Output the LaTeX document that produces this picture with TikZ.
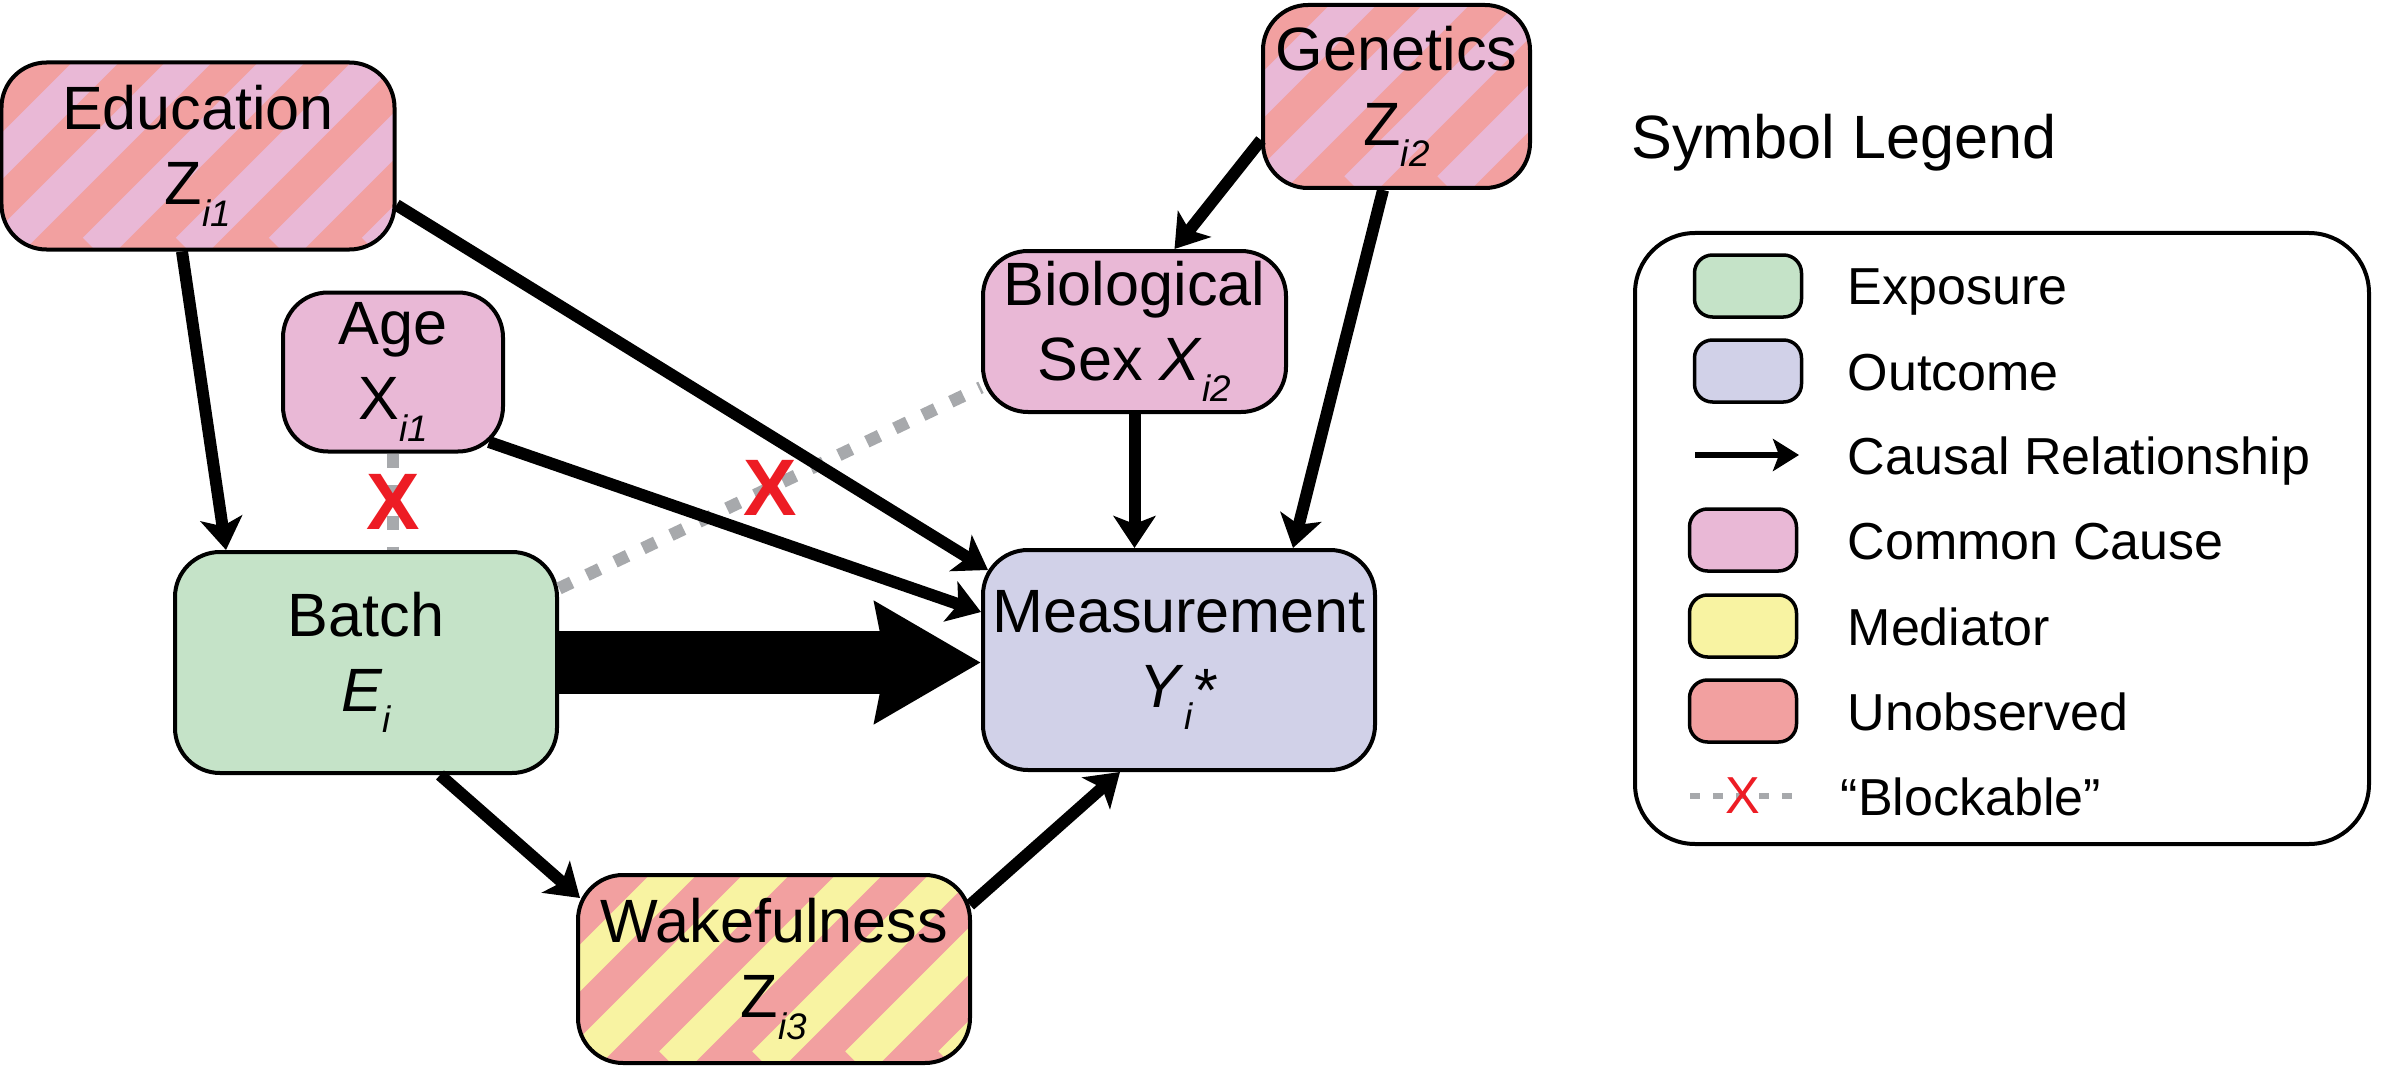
\documentclass[tikz,border=0pt]{standalone}
\usepackage{fontspec}
\setmainfont{Liberation Sans}
\usepackage{tikz}
\usetikzlibrary{arrows.meta}

\definecolor{exposure}{HTML}{C5E3C8}
\definecolor{outcome}{HTML}{D1D1E8}
\definecolor{common}{HTML}{E9B8D6}
\definecolor{mediator}{HTML}{F8F3A2}
\definecolor{unobs}{HTML}{F2A0A0}
\definecolor{blockgray}{HTML}{A7A9AC}
\definecolor{blockred}{HTML}{ED1C24}

\newcommand{\nodefont}{\fontsize{17.4pt}{21.3pt}\selectfont}
\newcommand{\legfont}{\fontsize{14.8pt}{17pt}\selectfont}
\newcommand{\xfont}{\fontsize{22.8pt}{24pt}\selectfont\bfseries}
\newcommand{\idx}[1]{\raisebox{-6.2pt}{\fontsize{10.5pt}{12pt}\selectfont\itshape #1}}

\begin{document}
\begin{tikzpicture}[
    var/.style={draw, line width=0.4mm, rounded corners=0.45cm, align=center, inner sep=0pt, font=\nodefont},
    striped/.style={fill=unobs, path picture={
        \foreach \k in {-9,...,9}
          \draw[#1, line width=3.3mm] ([xshift=\k*9.3mm]path picture bounding box.south west) -- ++(6,6);}},
    causal/.style={line width=1.2mm, -{Stealth[length=3.2mm, width=4.2mm, inset=0.8mm]}},
    blockable/.style={draw=blockgray, line width=1.25mm, dash pattern=on 1.4mm off 1.7mm},
    blockx/.style={text=blockred, font=\xfont, inner sep=0pt},
    swatch/.style={draw, line width=0.35mm, rounded corners=0.18cm, minimum width=1.07cm, minimum height=0.62cm, inner sep=0pt},
    legtext/.style={anchor=base west, font=\legfont, inner sep=0pt}]

    \useasboundingbox (0,0) rectangle (23.92,10.67);

    % Define the variables of the diagram
    \node[var, striped=common, minimum width=3.93cm, minimum height=1.87cm] (edu) at (1.98,9.11) {Education\\Z\idx{i1}};
    \node[var, striped=common, minimum width=2.67cm, minimum height=1.83cm] (gen) at (13.965,9.705) {Genetics\\Z\idx{i2}};
    \node[var, fill=common, minimum width=2.20cm, minimum height=1.59cm] (age) at (3.93,6.95) {Age\\X\idx{i1}};
    \node[var, fill=common, minimum width=3.03cm, minimum height=1.61cm] (sex) at (11.345,7.355) {Biological\\Sex \textit{X}\idx{i2}};
    \node[var, fill=exposure, minimum width=3.82cm, minimum height=2.21cm] (batch) at (3.66,4.045) {Batch\\\textit{E}\idx{i}};
    \node[var, fill=outcome, minimum width=3.92cm, minimum height=2.20cm] (meas) at (11.79,4.07) {Measurement\\\textit{Y}\idx{i}\kern0.04em\raisebox{-1pt}{*}};
    \node[var, striped=mediator, minimum width=3.92cm, minimum height=1.88cm] (wake) at (7.74,0.98) {Wakefulness\\Z\idx{i3}};

    % Blockable paths
    \draw[blockable] (age.south) -- (age.south |- batch.north);
    \draw[blockable] (batch.21) -- (sex.200);

    % Causal relationships
    \draw[causal] ([xshift=-0.16cm]edu.south) -- ([xshift=-1.40cm]batch.north);
    \draw[causal] ([yshift=-0.49cm]edu.east) -- ([shift={(0.07,-0.22)}]meas.north west);
    \draw[causal] ([shift={(-0.16,0.115)}]age.south east) -- ([yshift=0.48cm]meas.west);
    \draw[causal] ([yshift=-0.435cm]gen.west) -- ([xshift=0.40cm]sex.north);
    \draw[causal] ([xshift=-0.135cm]gen.south) -- ([xshift=1.14cm]meas.north);
    \draw[causal] (sex.south) -- (sex.south |- meas.north);
    \draw[causal] ([xshift=0.74cm]batch.south) -- ([shift={(0.04,-0.25)}]wake.north west);
    \draw[causal] ([shift={(-0.02,-0.32)}]wake.north east) -- ([xshift=-0.59cm]meas.south);
    \draw[line width=6.3mm, -{Stealth[length=10.5mm, width=11.8mm, inset=1mm]}] (batch.east) -- (batch.east -| meas.west);

    % Red crosses on the blockable paths
    \path (age.south) -- (age.south |- batch.north) node[blockx, midway] (xage) {X};
    \path (batch.21) -- (sex.200) node[blockx, pos=0.5] (xsex) {X};

    % Legend
    \node[font=\nodefont, anchor=base, inner sep=0pt] (legtitle) at (18.44,9.09) {Symbol Legend};
    \node[draw, line width=0.4mm, rounded corners=0.6cm, minimum width=7.34cm, minimum height=6.11cm] (legbox) at (20.02,5.285) {};

    \node[swatch, fill=exposure] (lexp) at (17.48,7.81) {};
    \node[legtext] (texp) at (18.47,7.62) {Exposure};
    \node[swatch, fill=outcome] (lout) at (17.48,6.96) {};
    \node[legtext] (tout) at (18.47,6.77) {Outcome};
    \coordinate (larrs) at (16.95,6.12);
    \coordinate (larre) at (17.99,6.12);
    \draw[line width=0.6mm, -{Stealth[length=2.6mm, width=3.2mm, inset=0.6mm]}] (larrs) -- (larre);
    \node[legtext] (tcau) at (18.47,5.93) {Causal Relationship};
    \node[swatch, fill=common] (lcom) at (17.43,5.27) {};
    \node[legtext] (tcom) at (18.47,5.08) {Common Cause};
    \node[swatch, fill=mediator] (lmed) at (17.43,4.41) {};
    \node[legtext] (tmed) at (18.47,4.22) {Mediator};
    \node[swatch, fill=unobs] (luno) at (17.43,3.56) {};
    \node[legtext] (tuno) at (18.47,3.37) {Unobserved};
    \coordinate (lblks) at (16.90,2.71);
    \coordinate (lblke) at (17.96,2.71);
    \draw[blockgray, line width=0.65mm, dash pattern=on 1mm off 1.3mm] (lblks) -- (lblke);
    \path (lblks) -- (lblke) node[midway, text=blockred, font=\legfont, inner sep=0pt] (lx) {X};
    \node[legtext] (tblk) at (18.40,2.52) {“Blockable”};
\end{tikzpicture}
\end{document}
